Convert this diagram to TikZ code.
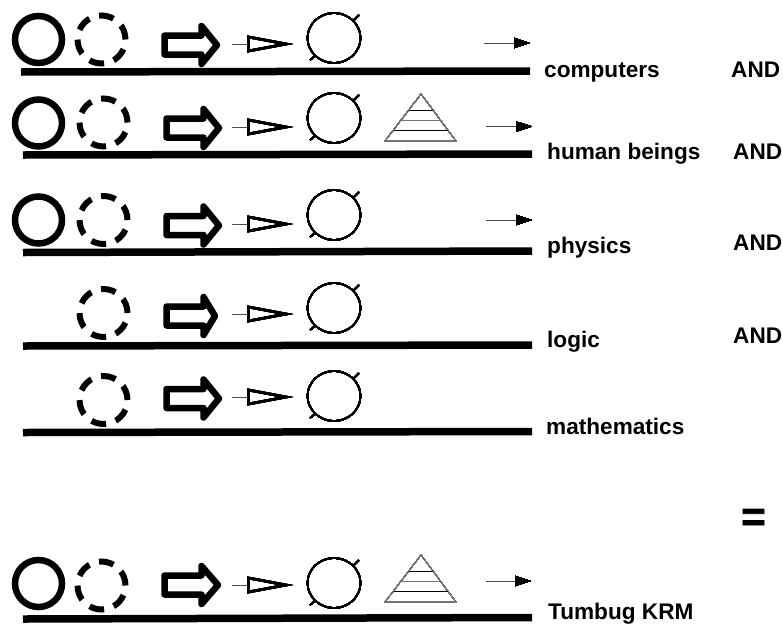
\documentclass[tikz,border=0pt]{standalone}
\usepackage{fontspec}
\setmainfont{Liberation Sans}
\newfontfamily\eqfont[FakeBold=2]{Liberation Sans}
\usepackage{tikz}
\usetikzlibrary{arrows.meta}
\tikzstyle{word} = [font=\fontsize{22.6}{24}\selectfont\bfseries, inner sep=0pt, anchor=base west]
\tikzstyle{floorline} = [line width=7.5pt]
\tikzstyle{solidring} = [line width=6.5pt]
\tikzstyle{dashring} = [line width=6pt, dash pattern=on 15pt off 10.13pt]
\tikzstyle{bigarrow} = [line width=6.5pt, line join=round]
\tikzstyle{wedge} = [line width=2.6pt, line join=miter]
\tikzstyle{thincircle} = [line width=1.5pt]
\tikzstyle{pyramid} = [line width=0.6pt, draw=black!55]
\tikzstyle{nextarrow} = [line width=1pt, black!70, -{Triangle[length=16pt,width=10pt,color=black]}]
% icons, all placed by a reference point
\newcommand{\bigarrowat}[3]{\draw[bigarrow] (#1,#2-9.5) -- (#1+37,#2-9.5) -- (#1+37,#2-19) -- (#3,#2) -- (#1+37,#2+19) -- (#1+37,#2+9.5) -- (#1,#2+9.5) -- cycle;}
\newcommand{\wedgeat}[2]{%
    \draw[line width=0.8pt, black!70] (232,#2) -- (248,#2);
    \draw[wedge] (248.5,#2-7) -- (286,#2) -- (248.5,#2+7) -- cycle;}
\newcommand{\mentalat}[2]{%
    \draw[thincircle] (#1,#2) circle (26.5pt and 25pt);
    \draw[thincircle] (#1+20,#2-18) -- (#1+25,#2-23);
    \draw[thincircle] (#1-19,#2+18) -- (#1-24,#2+22);}
\newcommand{\pyramidat}[2]{%
    \draw[pyramid] (421,#1) -- (456,#1+47) -- (385,#1+47) -- cycle;
    \draw[line width=0.6pt] (409,#1+16) -- (433,#1+16);
    \draw[pyramid] (401.5,#1+26) -- (440.5,#1+26);
    \draw[line width=0.6pt] (394,#1+36) -- (448,#1+36);}
\begin{document}
\begin{tikzpicture}[x=1pt, y=-1pt]
    \useasboundingbox (0,0) rectangle (783,624);
    % rules under the rows
    \foreach \xa/\xb/\ya/\yb in {21/530/72/71, 23/532/155/154, 23/532/252.5/251, 23/532/346/345, 23/532/432.5/431.5, 23/532/619/617.5}
        \draw[floorline] (\xa,\ya) -- (\xb,\yb);
    % rings
    \foreach \y in {39.5,123,220,583.5}
        \draw[solidring] (38.5,\y) circle (23.5pt);
    \foreach \x/\y in {101.5/39.5,103.5/122.5,103.5/220,103.5/313,103.5/400,101.5/585.5}
        \draw[dashring] (\x,\y) circle (24pt);
    % block arrows
    \foreach \x/\y/\tip in {164.5/45/217,166.5/128/219,166.5/225.5/219,166.5/316/215,166.5/398.5/219,164.5/585/218}
        \bigarrowat{\x}{\y}{\tip}
    % wedges
    \foreach \y in {44,127,224,314,397,585}
        \wedgeat{0}{\y}
    % thin circles
    \foreach \y in {38,118,215,308,396,583}
        \mentalat{334}{\y}
    % pyramids
    \foreach \y in {94,555}
        \pyramidat{\y}{0}
    % small arrows
    \foreach \xa/\xb/\y in {484/530/43,486/532/126.5,486/532/220,486/531/581}
        \draw[nextarrow] (\xa,\y) -- (\xb,\y);
    % labels
    \node[word] (computers) at (544,77) {computers};
    \node[word] (humanbeings) at (547,159) {human beings};
    \node[word] (physics) at (547,253) {physics};
    \node[word] (logic) at (547,347) {logic};
    \node[word] (mathematics) at (546,434) {mathematics};
    \node[word] (krm) at (548,619) {Tumbug KRM};
    \node[word] (and1) at (731,77) {AND};
    \node[word] (and2) at (733,159) {AND};
    \node[word] (and3) at (733,250) {AND};
    \node[word] (and4) at (733,343) {AND};
    \node[word, font=\fontsize{42}{42}\selectfont\eqfont\bfseries] (equals) at (741,531) {=};
\end{tikzpicture}
\end{document}
